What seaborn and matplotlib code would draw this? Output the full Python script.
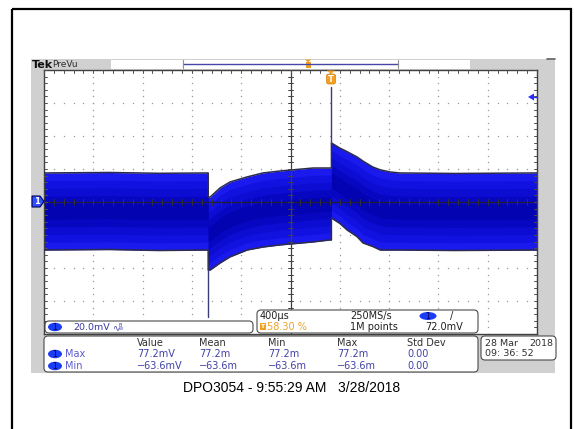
import numpy as np
import pandas as pd
import matplotlib
matplotlib.use("Agg")
import matplotlib.pyplot as plt
from matplotlib.patches import Rectangle, FancyBboxPatch, Ellipse, Polygon
import seaborn as sns

# ovojnica signala s ekrana (vrijeme u us u odnosu na okidanje, napon u mV)
time_us = [-2332, -1800, -1400, -1000, -1000, -984, -904, -824, -684, -556, -416, -148,
           -12, 0, 0, 68, 128, 208, 256, 336, 396, 476, 556, 1000, 1668]
upper_mv = [17.6, 17.9, 17.4, 17.6, 3.0, 3.0, 8.5, 12.1, 15.2, 17.6, 18.8, 20.6,
            20.6, 20.6, 35.8, 32.7, 30.5, 27.3, 24.8, 21.2, 19.5, 18.2, 17.6, 17.3, 17.6]
lower_mv = [-29.1, -28.8, -29.4, -29.1, -41.2, -41.2, -37.0, -33.3, -29.1, -27.3, -26.0, -24.2,
            -23.0, -23.0, -9.7, -13.0, -17.0, -21.0, -24.8, -27.0, -29.1, -29.1, -29.1, -29.4, -29.1]
# kratki impulsi (vrijeme, vrh)
spike_time_us = [-1000, 0]
spike_base_mv = [-41.2, 35.8]
spike_peak_mv = [-69.7, 69.7]

# postavke osciloskopa
time_per_div = 400
volts_per_div = 20
trig_pos = 0.583

# tablica mjerenja
meas_cols = ["Value", "Mean", "Min", "Max", "Std Dev"]
meas_rows = ["Max", "Min"]
meas_vals = [["77.2mV", "77.2m", "77.2m", "77.2m", "0.00"],
             ["\u221263.6mV", "\u221263.6m", "\u221263.6m", "\u221263.6m", "0.00"]]
caption = "DPO3054 - 9:55:29 AM   3/28/2018"

sns.set_theme(style="white")
plt.rcParams['font.family'] = ['DejaVu Sans']

W, H = 574, 429
fig = plt.figure(figsize=(W / 100, H / 100), dpi=100)
fig.patch.set_facecolor("white")


def overlay(z):
    a = fig.add_axes([0, 0, 1, 1], zorder=z)
    a.set_xlim(0, W)
    a.set_ylim(H, 0)
    a.axis("off")
    a.patch.set_alpha(0)
    return a


bg = overlay(0)
bg.add_patch(Rectangle((12, 9), 559, 430, fill=False, ec="black", lw=1.6))
bg.add_patch(Rectangle((31, 59), 524, 314, fc="#d0d0d0", ec="none"))
bg.add_patch(Rectangle((111, 60), 359, 9, fc="white", ec="none"))
bg.plot([183, 398], [64, 64], color="#4646a8", lw=1)
bg.plot([183, 183], [60, 68], color="#909090", lw=0.8)
bg.plot([398, 398], [60, 68], color="#909090", lw=0.8)
bg.plot([547, 555], [59, 59], color="#606060", lw=1.2)
bg.add_patch(Rectangle((305.5, 62), 5, 6, fc="#f0a020", ec="none"))
bg.add_patch(Polygon([(305, 59.5), (311, 59.5), (308, 62.5)], fc="#f0a020", ec="none"))
bg.text(32, 64.5, "Tek", fontsize=8, fontweight="bold", va="center", ha="left", color="#101010")
bg.text(52, 64.5, "PreVu", fontsize=6.5, va="center", ha="left", color="#303030")

# graticule
ax = fig.add_axes([44 / W, 1 - 334 / H, 493 / W, 264 / H], zorder=1)
x0 = -trig_pos * 10 * time_per_div
x1 = x0 + 10 * time_per_div
ax.set_xlim(x0, x1)
ax.set_ylim(-4 * volts_per_div, 4 * volts_per_div)
ax.set_facecolor("white")
ax.set_xticks([])
ax.set_yticks([])
for s in ax.spines.values():
    s.set_color("#404040")
    s.set_linewidth(1)

xc = x0 + 5 * time_per_div
xs_minor = np.arange(x0, x1 + 1, time_per_div / 5)
ys_minor = np.arange(-80, 80.1, volts_per_div / 5)
for k in range(1, 10):
    if k == 5:
        continue
    xv = x0 + k * time_per_div
    ax.plot([xv] * len(ys_minor), ys_minor, ls="none", marker="s", ms=0.9, color="#999999", mew=0)
for k in range(1, 8):
    if k == 4:
        continue
    yv = -80 + k * volts_per_div
    ax.plot(xs_minor, [yv] * len(xs_minor), ls="none", marker="s", ms=0.9, color="#999999", mew=0)

# trace
df = pd.DataFrame({"t": time_us, "hi": upper_mv, "lo": lower_mv})
mid = (df["hi"] + df["lo"]) / 2
half = (df["hi"] - df["lo"]) / 2
ax.fill_between(df["t"], df["lo"], df["hi"], color="#1a1aee", lw=0, zorder=2)
for frac, col in [(0.8, "#1212e0"), (0.6, "#0c0cd2"), (0.4, "#0707c2"), (0.2, "#0303b2")]:
    ax.fill_between(df["t"], mid - frac * half, mid + frac * half, color=col, lw=0, zorder=2)
sns.lineplot(data=df, x="t", y="hi", estimator=None, sort=False, color="#2c2c4c", lw=1.1, ax=ax, zorder=3)
sns.lineplot(data=df, x="t", y="lo", estimator=None, sort=False, color="#2c2c4c", lw=1.1, ax=ax, zorder=3)
for t, b, p in zip(spike_time_us, spike_base_mv, spike_peak_mv):
    ax.plot([t, t], [b, p], color="#3c3c78", lw=1, zorder=3)
ax.set_xlabel("")
ax.set_ylabel("")

# center crosshair with ticks
ax.axvline(xc, color="#404040", lw=0.9, zorder=4)
ax.axhline(0, color="#202030", lw=0.9, zorder=4)
tx = time_per_div * 0.06
ty = volts_per_div * 0.09
for yv in ys_minor:
    ax.plot([xc - tx, xc + tx], [yv, yv], color="#404040", lw=0.7, zorder=4)
    ax.plot([x0, x0 + tx], [yv, yv], color="#505050", lw=0.7, zorder=4)
    ax.plot([x1 - tx, x1], [yv, yv], color="#505050", lw=0.7, zorder=4)
for xv in xs_minor:
    ax.plot([xv, xv], [-ty, ty], color="#303040", lw=0.7, zorder=4)
    ax.plot([xv, xv], [80 - ty, 80], color="#505050", lw=0.7, zorder=4)

# foreground: markers and readouts
fg = overlay(2)
# trigger marker
fg.add_patch(Polygon([(327, 70.5), (335, 70.5), (331, 74)], fc="#f5a020", ec="none"))
fg.add_patch(FancyBboxPatch((326.5, 74), 9, 10, boxstyle="round,pad=0,rounding_size=2",
                            fc="#f5a020", ec="#d08010", lw=0.5))
fg.text(331, 79.5, "T", fontsize=6, fontweight="bold", color="white", ha="center", va="center")
# trigger level arrow
fg.add_patch(Polygon([(528, 97), (534, 93.5), (534, 100.5)], fc="#2a2aff", ec="none"))
fg.plot([534, 537], [97, 97], color="#2a2aff", lw=1)
# channel 1 ground marker
fg.add_patch(Polygon([(32, 196), (40, 196), (44, 201.5), (40, 207), (32, 207)],
                     fc="#3050ff", ec="#000060", lw=0.8))
fg.text(36.5, 201.8, "1", fontsize=6, color="white", ha="center", va="center", fontweight="bold")


def rbox(xa, ya, xb, yb, r=4):
    fg.add_patch(FancyBboxPatch((xa, ya), xb - xa, yb - ya, boxstyle=f"round,pad=0,rounding_size={r}",
                                fc="white", ec="#4a4a4a", lw=0.8))


def badge(cx, cy, w=14, h=8.5):
    fg.add_patch(Ellipse((cx, cy), w, h, fc="#1a3cf5", ec="none"))
    fg.text(cx, cy + 0.3, "1", fontsize=5.5, color="#000050", ha="center", va="center")


txt_kw = dict(fontsize=7, va="center", ha="left")
blue_txt = "#4040a8"

rbox(45, 321, 253, 333)
badge(55, 327)
fg.text(73, 327, "20.0mV", color="#3a3aa8", fontsize=6.8, va="center", ha="left")
fg.text(112, 327.5, "\u223f", color="#3a3aa8", fontsize=6.5, va="center", ha="left")
fg.text(118.5, 325.2, "B", color="#3a3aa8", fontsize=3.5, va="center", ha="left")
fg.text(119, 329.2, "W", color="#3a3aa8", fontsize=3, va="center", ha="left")

rbox(257, 310, 478, 333)
fg.text(260, 316, "400\u00b5s", color="#202020", **txt_kw)
fg.add_patch(Rectangle((259.5, 323), 6, 7, fc="#f0a020", ec="none"))
fg.text(262.5, 326.7, "T", fontsize=4.5, color="white", ha="center", va="center", fontweight="bold")
fg.text(267, 327, "58.30 %", color="#eba22a", **txt_kw)
fg.text(350, 316, "250MS/s", color="#202020", **txt_kw)
fg.text(350, 327, "1M points", color="#202020", **txt_kw)
badge(428, 316, w=17, h=8)
fg.text(450, 316, "/", color="#202020", fontsize=7, va="center", ha="left")
fg.text(425, 327, "72.0mV", color="#202020", **txt_kw)

rbox(44, 336, 478, 372)
col_x = [137, 199, 268, 337, 407]
for cx, name in zip(col_x, meas_cols):
    fg.text(cx, 343, name, color="#303030", **txt_kw)
for ri, (rname, vals) in enumerate(zip(meas_rows, meas_vals)):
    ry = 354 + ri * 12
    badge(55, ry)
    fg.text(65, ry, rname, color="#5a5ad0", **txt_kw)
    for cx, v in zip(col_x, vals):
        fg.text(cx, ry, v, color=blue_txt, **txt_kw)

rbox(481, 336, 556, 360)
fg.text(485, 343, "28 Mar", color="#303030", fontsize=6.8, va="center", ha="left")
fg.text(529, 343, "2018", color="#303030", fontsize=6.8, va="center", ha="left")
fg.text(485, 353, "09: 36: 52", color="#303030", fontsize=6.8, va="center", ha="left")

fg.text(292, 388, caption, fontsize=10, family=["Liberation Sans", "DejaVu Sans"],
        color="black", ha="center", va="center")

fig.savefig("out.png", dpi=100)
